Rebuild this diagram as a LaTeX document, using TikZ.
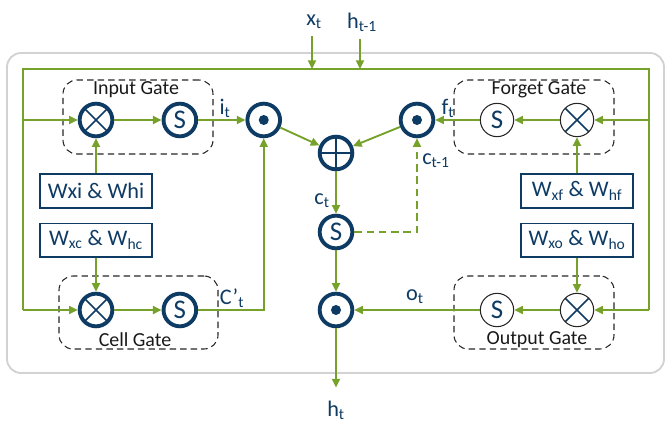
\documentclass[tikz,border=0pt]{standalone}
\usepackage{fontspec}
\setmainfont{Carlito}
\usepackage{xcolor}
\usepackage{tikz}
\usetikzlibrary{arrows.meta, positioning, calc}
\definecolor{lstmgreen}{HTML}{76A12B}
\definecolor{lstmblue}{HTML}{0E3B64}
\definecolor{framegray}{HTML}{D2D2D2}

\begin{document}
\begin{tikzpicture}[
  x=0.03cm, y=-0.03cm,
  font=\fontsize{19}{22}\selectfont,
  op/.style={circle, draw=lstmblue, line width=3.3pt, fill=white, minimum size=0.98cm, inner sep=0pt, text=lstmblue},
  thinop/.style={circle, draw=black!85, line width=0.9pt, fill=white, minimum size=1.0cm, inner sep=0pt, text=lstmblue},
  sig/.style={font=\fontsize{23}{25}\selectfont},
  mulop/.style={path picture={
    \draw[lstmblue, line width=1.3pt]
      ([shift={(45:0.6cm)}]path picture bounding box.center) -- ([shift={(-135:0.6cm)}]path picture bounding box.center)
      ([shift={(135:0.6cm)}]path picture bounding box.center) -- ([shift={(-45:0.6cm)}]path picture bounding box.center);}},
  plusop/.style={path picture={
    \draw[lstmblue, line width=1.3pt]
      ([shift={(0:0.6cm)}]path picture bounding box.center) -- ([shift={(180:0.6cm)}]path picture bounding box.center)
      ([shift={(90:0.6cm)}]path picture bounding box.center) -- ([shift={(270:0.6cm)}]path picture bounding box.center);}},
  hadop/.style={path picture={\fill[lstmblue] (path picture bounding box.center) circle (0.15cm);}},
  wbox/.style={draw=lstmblue, line width=1.6pt, fill=white, text=lstmblue, minimum width=3.37cm, minimum height=1.0cm, inner sep=1pt},
  gate/.style={draw=black!85, dash pattern=on 5.5pt off 3.5pt, line width=0.9pt, rounded corners=12pt},
  gatelbl/.style={text=black!90, font=\fontsize{17}{20}\selectfont, inner sep=1pt},
  lbl/.style={text=lstmblue, inner sep=1pt},
  line/.style={draw=lstmgreen, line width=1.6pt},
  arrow/.style={line, -{Triangle[length=0.26cm, width=0.24cm]}}
]
  \useasboundingbox (0,0) rectangle (668,424);
  \draw[framegray, line width=1.6pt, rounded corners=12pt] (7,53) rectangle (664,373);

  % gates
  \node[gate, minimum width=4.5cm, minimum height=2.22cm] (igate) at (138,117) {};
  \node[gate, minimum width=4.77cm, minimum height=2.19cm] (cgate) at (138.5,312.5) {};
  \node[gate, minimum width=4.8cm, minimum height=2.22cm] (fgate) at (534,117) {};
  \node[gate, minimum width=4.8cm, minimum height=2.19cm] (ogate) at (534,312.5) {};
  \node[gatelbl] (igl) at (136,90) {Input Gate};
  \node[gatelbl] (cgl) at (135,340) {Cell Gate};
  \node[gatelbl] (fgl) at (539,90) {Forget Gate};
  \node[gatelbl] (ogl) at (537,340) {Output Gate};

  % operations
  \node[op, mulop] (ix) at (96,120) {};
  \node[op, sig, right=1.42cm of ix] (is) {S};
  \node[op, hadop, right=1.42cm of is] (idot) {};
  \node[op, plusop] (plus) at (336,153) {};
  \node[op, hadop] (fdot) at (417,120) {};
  \node[thinop, sig] (fs) at (497,120) {S};
  \node[thinop, mulop] (fx) at (577,120) {};
  \node[op, sig] (cts) at (336,232) {S};
  \node[op, hadop] (odot) at (336,310) {};
  \node[op, mulop] (cx) at (96,310) {};
  \node[op, sig, right=1.42cm of cx] (cs) {S};
  \node[thinop, sig] (os) at (497,310) {S};
  \node[thinop, mulop] (ox) at (577,310) {};

  % weights
  \node[wbox] (wi) at (96,191) {Wxi \& Whi};
  \node[wbox, below=0.42cm of wi] (wc) {W\textsubscript{xc} \& W\textsubscript{hc}};
  \node[wbox] (wf) at (577,191) {W\textsubscript{xf} \& W\textsubscript{hf}};
  \node[wbox, below=0.42cm of wf] (wo) {W\textsubscript{xo} \& W\textsubscript{ho}};

  % labels
  \node[lbl] (xt) at (314,22) {x\textsubscript{t}};
  \node[lbl] (htm) at (362,22) {h\textsubscript{t-1}};
  \node[lbl] (il) at (225,108) {i\textsubscript{t}};
  \node[lbl] (cpl) at (232,298) {C’\textsubscript{t}};
  \node[lbl] (ctl) at (322,201) {c\textsubscript{t}};
  \node[lbl] (ftl) at (448,108) {f\textsubscript{t}};
  \node[lbl] (cml) at (436,161) {c\textsubscript{t-1}};
  \node[lbl] (otl) at (415,297) {o\textsubscript{t}};
  \node[lbl] (ht) at (336,410) {h\textsubscript{t}};

  \coordinate (ltop) at (23,69);
  \coordinate (rtop) at (649,69);
  \coordinate (lin1) at (23,120);
  \coordinate (lin2) at (23,310);
  \coordinate (rin1) at (649,120);
  \coordinate (rin2) at (649,310);
  \coordinate (xin) at (312,69);
  \coordinate (hin) at (360,69);

  \draw[line] (lin2) -- (ltop) -- (rtop) -- (rin2);
  \draw[arrow, shorten <=5pt] (xt.south -| xin) -- (xin);
  \draw[arrow, shorten <=5pt] (htm.south -| hin) -- (hin);

  \draw[arrow] (lin1) -- (ix);
  \draw[arrow] (ix) -- (is);
  \draw[arrow] (is) -- (idot);
  \draw[arrow] (wi) -- (ix);
  \draw[arrow] (wc) -- (cx);
  \draw[arrow] (lin2) -- (cx);
  \draw[arrow] (cx) -- (cs);
  \draw[arrow] (cs) -| (idot);
  \draw[arrow] (idot) -- (plus);
  \draw[arrow] (fdot) -- (plus);
  \draw[arrow] (plus) -- (cts);
  \draw[arrow] (cts) -- (odot);
  \draw[arrow, dash pattern=on 6.5pt off 4pt] (cts) -| (fdot);

  \draw[arrow] (rin1) -- (fx);
  \draw[arrow] (fx) -- (fs);
  \draw[arrow] (fs) -- (fdot);
  \draw[arrow] (wf) -- (fx);
  \draw[arrow] (wo) -- (ox);
  \draw[arrow] (rin2) -- (ox);
  \draw[arrow] (ox) -- (os);
  \draw[arrow] (os) -- (odot);
  \draw[arrow, shorten >=10pt] (odot) -- (ht);
\end{tikzpicture}
\end{document}
